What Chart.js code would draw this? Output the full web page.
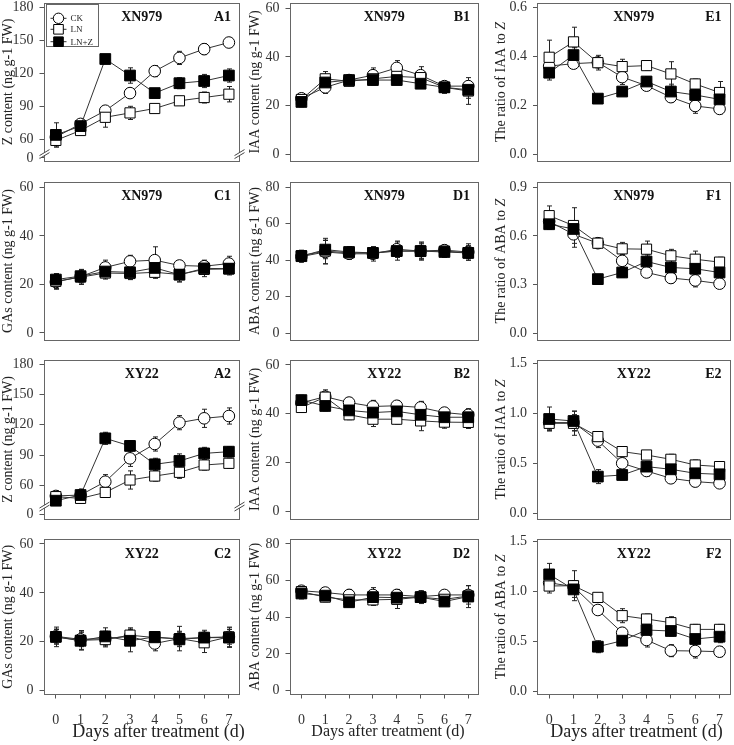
<!DOCTYPE html>
<html>
<head>
<meta charset="utf-8">
<script src="https://cdn.jsdelivr.net/npm/chart.js@4.4.0/dist/chart.umd.min.js"></script>
<style>
  body { margin: 0; background: #fff; width: 734px; height: 745px; position: relative; overflow: hidden; }
  canvas { position: absolute; }
</style>
</head>
<body>
<script>
// ---- data ----
const days = [0, 1, 2, 3, 4, 5, 6, 7];
const seriesNames = ['CK', 'LN', 'LN+Z'];

// XN979
const a1CK  = [62, 74, 86, 102, 122, 134, 142, 148];
const a1LN  = [59, 68, 80, 84, 88, 95, 98, 101];
const a1LNZ = [64, 72, 133, 118, 102, 111, 113, 118];
const a1CKErr  = [5, 3, 3, 3, 5, 6, 5, 3];
const a1LNErr  = [6, 4, 9, 6, 3, 4, 5, 7];
const a1LNZErr = [11, 3, 4, 7, 4, 5, 6, 6];

const b1CK  = [23, 27.5, 30.5, 32.5, 35.5, 32.5, 28, 28];
const b1LN  = [22.5, 31, 30, 31, 32, 31.5, 27.5, 26];
const b1LNZ = [21.5, 29.5, 30.5, 30.5, 30.5, 29, 27.5, 26.5];
const b1CKErr  = [2, 2.5, 2, 3, 3, 3.5, 2, 2];
const b1LNErr  = [2, 3, 1.5, 2, 2, 2, 2.5, 5.5];
const b1LNZErr = [2, 2, 1.5, 2, 1.5, 1.5, 2, 3.5];

const c1CK  = [21, 23.2, 27, 29.5, 30, 27.8, 27.5, 28.6];
const c1LN  = [21.3, 23, 24.7, 24.5, 25, 24.1, 26.2, 26.4];
const c1LNZ = [22, 23.4, 25.3, 25, 26.8, 24, 26.6, 26.5];
const c1CKErr  = [3, 3, 3, 2.5, 5.5, 2, 2.5, 3];
const c1LNErr  = [3, 3, 2.5, 2.5, 2.5, 3, 3, 2.5];
const c1LNZErr = [2.5, 2.5, 2.5, 3, 3.5, 3, 2.5, 2];

const d1CK  = [42, 44.5, 43.5, 43.5, 46, 45, 45.5, 44.5];
const d1LN  = [42.5, 45, 44, 44, 45, 45, 45, 44];
const d1LNZ = [42.2, 45.8, 44.5, 44, 45, 45, 44.5, 44];
const d1CKErr  = [3, 6.5, 3, 4, 4.5, 4.5, 3, 4.5];
const d1LNErr  = [3, 7, 3.5, 3, 5, 5, 3, 4];
const d1LNZErr = [3, 5, 3, 2.5, 3.5, 4, 3, 3];

const e1CK  = [0.36, 0.37, 0.375, 0.315, 0.28, 0.233, 0.197, 0.185];
const e1LN  = [0.396, 0.459, 0.374, 0.358, 0.362, 0.328, 0.287, 0.252];
const e1LNZ = [0.333, 0.405, 0.227, 0.256, 0.297, 0.256, 0.242, 0.224];
const e1CKErr  = [0.03, 0.02, 0.02, 0.03, 0.02, 0.02, 0.03, 0.02];
const e1LNErr  = [0.07, 0.06, 0.03, 0.03, 0.02, 0.05, 0.02, 0.045];
const e1LNZErr = [0.03, 0.03, 0.015, 0.01, 0.02, 0.03, 0.03, 0.03];

const f1CK  = [0.69, 0.61, 0.555, 0.446, 0.374, 0.34, 0.325, 0.305];
const f1LN  = [0.725, 0.664, 0.555, 0.52, 0.518, 0.477, 0.456, 0.438];
const f1LNZ = [0.672, 0.643, 0.333, 0.374, 0.442, 0.405, 0.397, 0.374];
const f1CKErr  = [0.05, 0.08, 0.03, 0.04, 0.03, 0.03, 0.04, 0.03];
const f1LNErr  = [0.06, 0.11, 0.03, 0.04, 0.05, 0.04, 0.05, 0.03];
const f1LNZErr = [0.03, 0.04, 0.03, 0.03, 0.04, 0.03, 0.03, 0.03];

// XY22
const a2CK  = [49.5, 50.4, 63.6, 86.7, 100.9, 122, 126.3, 128.6];
const a2LN  = [48.8, 47.1, 53, 65.3, 69.2, 72.9, 80.1, 81.8];
const a2LNZ = [44.8, 50.4, 106.5, 99, 80.8, 84.1, 91.6, 93.3];
const a2CKErr  = [5, 5, 7, 8, 7, 7, 9, 8];
const a2LNErr  = [5, 5, 5, 9, 5, 6, 5, 5];
const a2LNZErr = [4, 6, 6, 5, 6, 7, 6, 5];

const b2CK  = [44.5, 47, 44.6, 43, 43.3, 42.6, 40.5, 39.6];
const b2LN  = [42.6, 46.8, 39.6, 37.8, 37.8, 37.1, 36.6, 36.5];
const b2LNZ = [45.6, 43.2, 41.4, 40.5, 41, 39.6, 38.6, 38.6];
const b2CKErr  = [2, 2, 2, 2.5, 2, 2.5, 2, 2];
const b2LNErr  = [2, 3, 2, 3, 2, 4, 2.5, 2.5];
const b2LNZErr = [2, 2, 2, 4, 2, 3.5, 2, 3.5];

const c2CK  = [22.2, 21, 21.3, 22.2, 19.3, 21.3, 21.7, 22];
const c2LN  = [22, 20.6, 20.9, 22.7, 21.7, 21.3, 19.6, 22];
const c2LNZ = [22, 20.4, 22.2, 20.4, 22, 21, 21.7, 21.7];
const c2CKErr  = [3, 3, 3, 3, 3, 3, 3, 3];
const c2LNErr  = [4, 4, 3, 3, 2, 5, 4, 4];
const c2LNZErr = [3, 3.5, 3.5, 4.5, 2, 3, 2, 4];

const d2CK  = [54.5, 53.5, 52.2, 52.2, 52.2, 51.3, 52.2, 52.2];
const d2LN  = [54, 51, 49.5, 49.5, 49.8, 51, 49.8, 51.6];
const d2LNZ = [53, 51.8, 48.2, 51, 50.7, 51, 48.6, 51.3];
const d2CKErr  = [2, 2.5, 3, 4, 3, 2.5, 2, 5];
const d2LNErr  = [2, 2.5, 2, 3, 5, 3, 2, 3];
const d2LNZErr = [3, 2.5, 2.5, 3.5, 3, 3.5, 2, 6];

const e2CK  = [0.907, 0.907, 0.727, 0.5, 0.423, 0.35, 0.317, 0.3];
const e2LN  = [0.9, 0.9, 0.767, 0.617, 0.583, 0.54, 0.483, 0.467];
const e2LNZ = [0.943, 0.923, 0.367, 0.383, 0.467, 0.44, 0.4, 0.39];
const e2CKErr  = [0.08, 0.08, 0.07, 0.05, 0.05, 0.04, 0.05, 0.04];
const e2LNErr  = [0.06, 0.12, 0.05, 0.05, 0.04, 0.05, 0.05, 0.05];
const e2LNZErr = [0.12, 0.1, 0.07, 0.05, 0.05, 0.04, 0.04, 0.04];

const f2CK  = [1.09, 1.05, 0.817, 0.59, 0.517, 0.41, 0.407, 0.4];
const f2LN  = [1.057, 1.06, 0.943, 0.76, 0.727, 0.69, 0.623, 0.623];
const f2LNZ = [1.173, 1.023, 0.45, 0.51, 0.617, 0.607, 0.527, 0.55];
const f2CKErr  = [0.08, 0.06, 0.04, 0.05, 0.07, 0.06, 0.07, 0.05];
const f2LNErr  = [0.07, 0.15, 0.04, 0.07, 0.05, 0.06, 0.05, 0.05];
const f2LNZErr = [0.11, 0.08, 0.06, 0.04, 0.05, 0.05, 0.04, 0.06];

// tick values / labels (Z axes are broken: the "0" tick sits just under 60)
const zTicks1 = [43.1, 60, 90, 120, 150, 180];
const zTicks2 = [31.3, 60, 90, 120, 150, 180];
const zLabels = ['0', '60', '90', '120', '150', '180'];
const ticks60 = [0, 20, 40, 60];
const labels60 = ['0', '20', '40', '60'];
const ticks80 = [0, 20, 40, 60, 80];
const labels80 = ['0', '20', '40', '60', '80'];
const ticksE1 = [0, 0.2, 0.4, 0.6];
const labelsE1 = ['0.0', '0.2', '0.4', '0.6'];
const ticksF1 = [0, 0.3, 0.6, 0.9];
const labelsF1 = ['0.0', '0.3', '0.6', '0.9'];
const ticks15 = [0, 0.5, 1.0, 1.5];
const labels15 = ['0.0', '0.5', '1.0', '1.5'];
const xTitle = 'Days after treatment (d)';

// ---- layout ----
const FONT = 'Liberation Serif';
const cols = [
  { left: 0,   width: 252, plotLeft: 43.5,  plotRight: 240,   yTitleX: 8.4,   xTitleX: 158.5, xTitleSize: 18 },
  { left: 243, width: 239, plotLeft: 289.5, plotRight: 479,   yTitleX: 255.3, xTitleX: 388,   xTitleSize: 16 },
  { left: 483, width: 251, plotLeft: 537,   plotRight: 730.5, yTitleX: 501,   xTitleX: 636.5, xTitleSize: 18 }
];
const rows = [
  { top: 0,   height: 165, plotTop: 2.5,   plotBottom: 161.5 },
  { top: 177, height: 167, plotTop: 181.5, plotBottom: 340.5 },
  { top: 355, height: 168, plotTop: 359.5, plotBottom: 519.5 },
  { top: 535, height: 210, plotTop: 539,   plotBottom: 694.5 }
];

const panels = [
  { id: 'A1', row: 0, col: 0, cv: 'XN979', yTitle: ['Z content (ng g-1 FW)'], s: [a1CK, a1LN, a1LNZ], e: [a1CKErr, a1LNErr, a1LNZErr], ticks: zTicks1, labels: zLabels, min: 39.8, max: 184.4, breakAt: 47, legend: true },
  { id: 'B1', row: 0, col: 1, cv: 'XN979', yTitle: ['IAA content (ng g-1 FW)'], s: [b1CK, b1LN, b1LNZ], e: [b1CKErr, b1LNErr, b1LNZErr], ticks: ticks60, labels: labels60, min: -3.0, max: 62.4 },
  { id: 'E1', row: 0, col: 2, cv: 'XN979', yTitle: ['The ratio of IAA to ', 'Z'], s: [e1CK, e1LN, e1LNZ], e: [e1CKErr, e1LNErr, e1LNZErr], ticks: ticksE1, labels: labelsE1, min: -0.03, max: 0.62 },
  { id: 'C1', row: 1, col: 0, cv: 'XN979', yTitle: ['GAs content (ng g-1 FW)'], s: [c1CK, c1LN, c1LNZ], e: [c1CKErr, c1LNErr, c1LNZErr], ticks: ticks60, labels: labels60, min: -3.1, max: 62.4 },
  { id: 'D1', row: 1, col: 1, cv: 'XN979', yTitle: ['ABA content (ng g-1 FW)'], s: [d1CK, d1LN, d1LNZ], e: [d1CKErr, d1LNErr, d1LNZErr], ticks: ticks80, labels: labels80, min: -4.1, max: 83.2 },
  { id: 'F1', row: 1, col: 2, cv: 'XN979', yTitle: ['The ratio of ABA to ', 'Z'], s: [f1CK, f1LN, f1LNZ], e: [f1CKErr, f1LNErr, f1LNZErr], ticks: ticksF1, labels: labelsF1, min: -0.046, max: 0.936 },
  { id: 'A2', row: 2, col: 0, cv: 'XY22', yTitle: ['Z content (ng g-1 FW)'], s: [a2CK, a2LN, a2LNZ], e: [a2CKErr, a2LNErr, a2LNZErr], ticks: zTicks2, labels: zLabels, min: 26.2, max: 184.5, breakAt: 39.5 },
  { id: 'B2', row: 2, col: 1, cv: 'XY22', yTitle: ['IAA content (ng g-1 FW)'], s: [b2CK, b2LN, b2LNZ], e: [b2CKErr, b2LNErr, b2LNZErr], ticks: ticks60, labels: labels60, min: -3.2, max: 62.2 },
  { id: 'E2', row: 2, col: 2, cv: 'XY22', yTitle: ['The ratio of IAA to ', 'Z'], s: [e2CK, e2LN, e2LNZ], e: [e2CKErr, e2LNErr, e2LNZErr], ticks: ticks15, labels: labels15, min: -0.062, max: 1.538 },
  { id: 'C2', row: 3, col: 0, cv: 'XY22', yTitle: ['GAs content (ng g-1 FW)'], s: [c2CK, c2LN, c2LNZ], e: [c2CKErr, c2LNErr, c2LNZErr], ticks: ticks60, labels: labels60, min: -1.55, max: 62.0 },
  { id: 'D2', row: 3, col: 1, cv: 'XY22', yTitle: ['ABA content (ng g-1 FW)'], s: [d2CK, d2LN, d2LNZ], e: [d2CKErr, d2LNErr, d2LNZErr], ticks: ticks80, labels: labels80, min: -2.1, max: 82.7 },
  { id: 'F2', row: 3, col: 2, cv: 'XY22', yTitle: ['The ratio of ABA to ', 'Z'], s: [f2CK, f2LN, f2LNZ], e: [f2CKErr, f2LNErr, f2LNZErr], ticks: ticks15, labels: labels15, min: -0.028, max: 1.527 }
];

// marker styles for CK, LN, LN+Z
const styles = [
  { pointStyle: 'circle', pointRadius: 5.8, fill: '#fff' },
  { pointStyle: 'rect', pointRadius: 7.2, fill: '#fff' },
  { pointStyle: 'rect', pointRadius: 7.6, fill: '#000' }
];

function drawMarker(ctx, k, x, y) {
  ctx.fillStyle = styles[k].fill;
  ctx.strokeStyle = '#000';
  ctx.lineWidth = 1;
  ctx.beginPath();
  if (k === 0) ctx.arc(x, y, 5.2, 0, Math.PI * 2);
  else ctx.rect(x - 4.8, y - 4.8, 9.6, 9.6);
  ctx.fill();
  ctx.stroke();
}

const deco = {
  id: 'deco',
  beforeDatasetsDraw(chart, args, opts) {
    const p = opts.panel;
    const ctx = chart.ctx, xs = chart.scales.x, ys = chart.scales.y;
    ctx.save();
    ctx.strokeStyle = '#222';
    ctx.lineWidth = 1;
    p.s.forEach((vals, k) => {
      vals.forEach((v, i) => {
        const px = Math.round(xs.getPixelForValue(days[i])) + 0.5;
        const yt = ys.getPixelForValue(v + p.e[k][i]);
        const yb = ys.getPixelForValue(v - p.e[k][i]);
        ctx.beginPath();
        ctx.moveTo(px, yb); ctx.lineTo(px, yt);
        ctx.moveTo(px - 2.5, yt); ctx.lineTo(px + 2.5, yt);
        ctx.moveTo(px - 2.5, yb); ctx.lineTo(px + 2.5, yb);
        ctx.stroke();
      });
    });
    ctx.restore();
  },
  afterDraw(chart, args, opts) {
    const p = opts.panel;
    const c = cols[p.col], rw = rows[p.row];
    const ctx = chart.ctx, a = chart.chartArea, ys = chart.scales.y;
    ctx.save();
    // frame
    ctx.strokeStyle = '#666';
    ctx.lineWidth = 1;
    const l = Math.round(a.left) + 0.5, t = Math.round(a.top) + 0.5;
    const r = Math.round(a.right) - 0.5, b = Math.round(a.bottom) - 0.5;
    ctx.strokeRect(l, t, r - l, b - t);
    // axis break marks
    if (p.breakAt !== undefined) {
      const yb = ys.getPixelForValue(p.breakAt);
      [l, r].forEach(xe => {
        ctx.fillStyle = '#fff';
        ctx.beginPath();
        ctx.moveTo(xe - 5, yb + 5); ctx.lineTo(xe + 5, yb - 1);
        ctx.lineTo(xe + 5, yb - 4); ctx.lineTo(xe - 5, yb + 2);
        ctx.closePath();
        ctx.fill();
        ctx.strokeStyle = '#444';
        ctx.beginPath();
        ctx.moveTo(xe - 5, yb + 5); ctx.lineTo(xe + 5, yb - 1);
        ctx.moveTo(xe - 5, yb + 2); ctx.lineTo(xe + 5, yb - 4);
        ctx.stroke();
      });
    }
    // y axis title (rotated, last part italic when given)
    ctx.save();
    ctx.translate(c.yTitleX - c.left, (a.top + a.bottom) / 2);
    ctx.rotate(-Math.PI / 2);
    ctx.fillStyle = '#222';
    ctx.textBaseline = 'middle';
    ctx.textAlign = 'left';
    const fonts = ['14px ' + FONT, 'italic 14px ' + FONT];
    let total = 0;
    p.yTitle.forEach((part, i) => { ctx.font = fonts[i]; total += ctx.measureText(part).width; });
    let xx = -total / 2;
    p.yTitle.forEach((part, i) => {
      ctx.font = fonts[i];
      ctx.fillText(part, xx, 0);
      xx += ctx.measureText(part).width;
    });
    ctx.restore();
    // cultivar and panel label
    ctx.fillStyle = '#111';
    ctx.font = 'bold 14px ' + FONT;
    ctx.textBaseline = 'middle';
    ctx.textAlign = 'center';
    ctx.fillText(p.cv, (a.left + a.right) / 2, a.top + 15);
    ctx.textAlign = 'right';
    ctx.fillText(p.id, a.right - 9, a.top + 15);
    // x axis title under the bottom row
    if (p.row === 3) {
      ctx.fillStyle = '#222';
      ctx.font = c.xTitleSize + 'px ' + FONT;
      ctx.textAlign = 'center';
      ctx.fillText(xTitle, c.xTitleX - c.left, 732 - rw.top);
    }
    // legend (A1 only)
    if (p.legend) {
      const bx = a.left + 2.5, by = a.top + 1;
      ctx.strokeStyle = '#666';
      ctx.strokeRect(Math.round(bx) + 0.5, Math.round(by) + 0.5, 52, 42);
      ctx.font = '9px ' + FONT;
      ctx.textAlign = 'left';
      [15.8, 26.8, 39.2].forEach((dy, k) => {
        const yy = a.top + dy;
        ctx.strokeStyle = '#333';
        ctx.beginPath();
        ctx.moveTo(a.left + 7, yy); ctx.lineTo(a.left + 23, yy);
        ctx.stroke();
        drawMarker(ctx, k, a.left + 15, yy);
        ctx.fillStyle = '#222';
        ctx.fillText(seriesNames[k], a.left + 27, yy + 0.5);
      });
    }
    ctx.restore();
  }
};

panels.forEach(p => {
  const c = cols[p.col], r = rows[p.row];
  const bottomRow = p.row === 3;
  const canvas = document.createElement('canvas');
  canvas.width = c.width;
  canvas.height = r.height;
  canvas.style.left = c.left + 'px';
  canvas.style.top = r.top + 'px';
  document.body.appendChild(canvas);

  // draw LN+Z on top, then LN, then CK
  const datasets = [2, 1, 0].map(k => ({
    label: seriesNames[k],
    data: days.map((d, i) => ({ x: d, y: p.s[k][i] })),
    borderColor: '#333',
    borderWidth: 1,
    pointStyle: styles[k].pointStyle,
    pointRadius: styles[k].pointRadius,
    pointBackgroundColor: styles[k].fill,
    pointBorderColor: '#000',
    pointBorderWidth: 1,
    tension: 0,
    fill: false,
    clip: false
  }));

  new Chart(canvas, {
    type: 'line',
    data: { datasets },
    plugins: [deco],
    options: {
      responsive: false,
      animation: false,
      layout: {
        autoPadding: false,
        padding: {
          left: 0,
          top: r.plotTop - r.top,
          right: c.left + c.width - c.plotRight,
          bottom: bottomRow ? 0 : r.top + r.height - r.plotBottom
        }
      },
      plugins: {
        legend: { display: false },
        tooltip: { enabled: false },
        deco: { panel: p }
      },
      scales: {
        x: {
          type: 'linear',
          min: -0.5,
          max: 7.45,
          display: bottomRow,
          afterBuildTicks: s => { s.ticks = days.map(v => ({ value: v })); },
          afterFit: s => { s.height = bottomRow ? r.top + r.height - r.plotBottom : 0; s.paddingLeft = 0; s.paddingRight = 0; },
          border: { display: false },
          grid: { drawOnChartArea: false, drawTicks: true, tickLength: 4, color: '#555' },
          ticks: { font: { family: FONT, size: 14 }, color: '#333', padding: 13, maxRotation: 0, autoSkip: false },
          title: { display: false }
        },
        y: {
          type: 'linear',
          min: p.min,
          max: p.max,
          afterBuildTicks: s => { s.ticks = p.ticks.map(v => ({ value: v })); },
          afterFit: s => { s.width = c.plotLeft - c.left; s.paddingTop = 0; s.paddingBottom = 0; },
          border: { display: false },
          grid: { drawOnChartArea: false, drawTicks: true, tickLength: 4, color: '#555' },
          ticks: { callback: (v, i) => p.labels[i], font: { family: FONT, size: 14 }, color: '#333', padding: 6 },
          title: { display: false }
        }
      }
    }
  });
});
</script>
</body>
</html>
